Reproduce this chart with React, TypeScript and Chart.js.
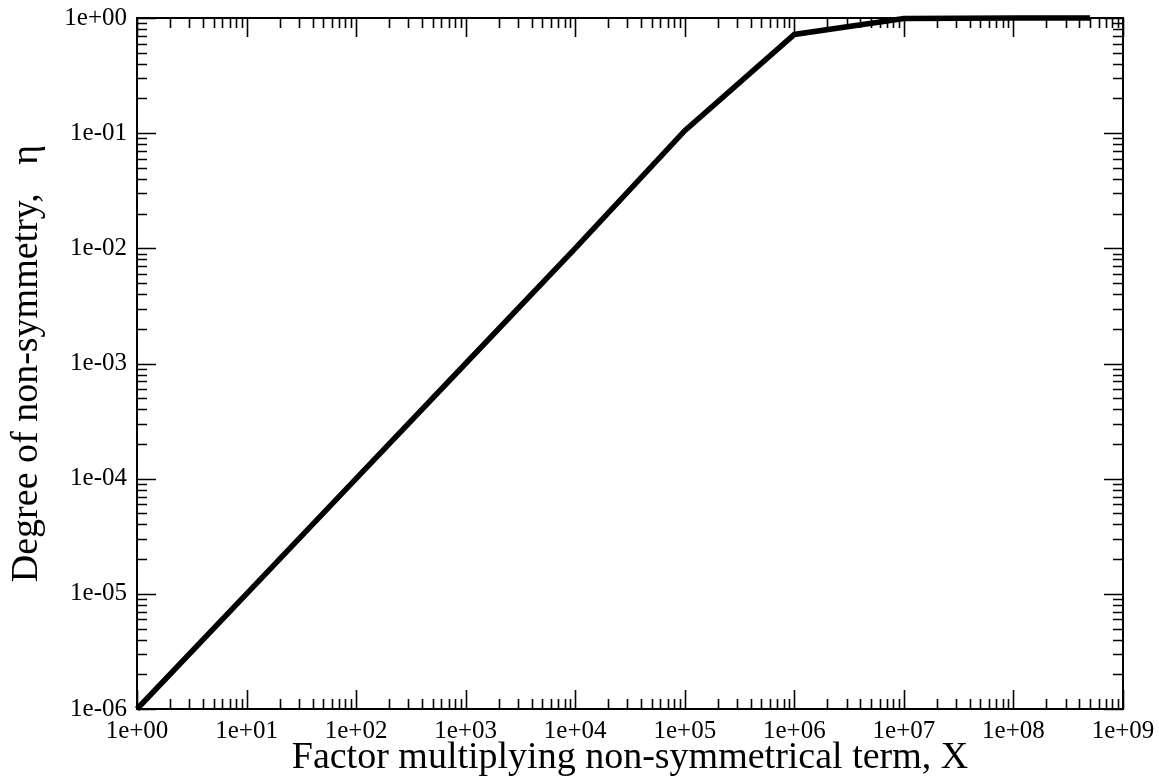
import React, { useEffect, useRef } from "react";
import { Chart, registerables } from "chart.js";

Chart.register(...registerables);

// ---- data ----
const factorX = [1, 10, 100, 1e3, 1e4, 1e5, 1e6, 1e7, 1e8, 5e8];
const etaValues = [1e-6, 1e-5, 1e-4, 1e-3, 1e-2, 0.105, 0.72, 0.99, 1, 1];
const xMajorTicks = [1, 1e1, 1e2, 1e3, 1e4, 1e5, 1e6, 1e7, 1e8, 1e9];
const yMajorTicks = [1e-6, 1e-5, 1e-4, 1e-3, 1e-2, 1e-1, 1];
const minorMultipliers = [2, 3, 4, 5, 6, 7, 8, 9];
const xTitle = "Factor multiplying non-symmetrical term, X";
const yTitle = "Degree of non-symmetry,   η";

const FONT = "'Liberation Serif', 'Times New Roman', serif";

function fmtExp(v: number): string {
  const e = Math.round(Math.log10(v));
  return "1e" + (e < 0 ? "-" : "+") + String(Math.abs(e)).padStart(2, "0");
}

const frameTicksPlugin = {
  id: "frameTicks",
  beforeDatasetsDraw(chart: any) {
    const { ctx, chartArea } = chart;
    const { left, right, top, bottom } = chartArea;
    const xs = chart.scales.x;
    const ys = chart.scales.y;
    const MAJ = 19;
    const MIN = 10;
    ctx.save();
    ctx.strokeStyle = "#000";
    ctx.lineWidth = 1.6;
    ctx.lineCap = "butt";
    const xTicks: [number, number][] = [];
    xMajorTicks.forEach((v, i) => {
      xTicks.push([v, MAJ]);
      if (i < xMajorTicks.length - 1) minorMultipliers.forEach((m) => xTicks.push([v * m, MIN]));
    });
    xTicks.forEach(([v, len]) => {
      const px = Math.round(xs.getPixelForValue(v)) + 0.5;
      ctx.beginPath();
      ctx.moveTo(px, bottom);
      ctx.lineTo(px, bottom - len);
      ctx.moveTo(px, top);
      ctx.lineTo(px, top + len);
      ctx.stroke();
    });
    const yTicks: [number, number][] = [];
    yMajorTicks.forEach((v, i) => {
      yTicks.push([v, MAJ]);
      if (i < yMajorTicks.length - 1) minorMultipliers.forEach((m) => yTicks.push([v * m, MIN]));
    });
    yTicks.forEach(([v, len]) => {
      const py = Math.round(ys.getPixelForValue(v)) + 0.5;
      ctx.beginPath();
      ctx.moveTo(left, py);
      ctx.lineTo(left + len, py);
      ctx.moveTo(right, py);
      ctx.lineTo(right - len, py);
      ctx.stroke();
    });
    ctx.lineWidth = 2;
    ctx.strokeRect(left, top, right - left, bottom - top);
    ctx.restore();
  },
};

export default function App() {
  const ref = useRef<HTMLCanvasElement | null>(null);
  useEffect(() => {
    document.body.style.margin = "0";
    const canvas = ref.current;
    if (!canvas) return;
    const chart = new Chart(canvas, {
      type: "line",
      data: {
        datasets: [
          {
            data: factorX.map((x, i) => ({ x, y: etaValues[i] })),
            borderColor: "#000",
            borderWidth: 5.5,
            pointRadius: 0,
            fill: false,
            tension: 0,
            clip: false,
            borderJoinStyle: "miter",
          } as any,
        ],
      },
      options: {
        responsive: false,
        animation: false,
        devicePixelRatio: 1,
        layout: { padding: { left: 0, right: 36, top: 18, bottom: 0 } },
        plugins: { legend: { display: false }, tooltip: { enabled: false } },
        scales: {
          x: {
            type: "logarithmic",
            position: "bottom",
            min: 1,
            max: 1e9,
            grid: { display: false, drawTicks: false },
            border: { display: false },
            afterBuildTicks: (s: any) => {
              s.ticks = xMajorTicks.map((v) => ({ value: v }));
            },
            afterFit: (s: any) => {
              s.height = 73;
              s.paddingLeft = 0;
              s.paddingRight = 0;
            },
            ticks: {
              color: "#000",
              font: { family: FONT, size: 25 },
              padding: 7,
              maxRotation: 0,
              autoSkip: false,
              callback: (v: any) => fmtExp(Number(v)),
            },
            title: {
              display: true,
              text: xTitle,
              color: "#000",
              font: { family: FONT, size: 38 },
              padding: { top: 0, bottom: 1 },
            },
          },
          y: {
            type: "logarithmic",
            position: "left",
            min: 1e-6,
            max: 1,
            grid: { display: false, drawTicks: false },
            border: { display: false },
            afterBuildTicks: (s: any) => {
              s.ticks = yMajorTicks.map((v) => ({ value: v }));
            },
            afterFit: (s: any) => {
              s.width = 137;
              s.paddingTop = 0;
              s.paddingBottom = 0;
            },
            ticks: {
              color: "#000",
              font: { family: FONT, size: 25 },
              padding: 10,
              autoSkip: false,
              callback: (v: any) => fmtExp(Number(v)),
            },
            title: {
              display: true,
              text: yTitle,
              color: "#000",
              font: { family: FONT, size: 38 },
              padding: { top: 4, bottom: 0 },
            },
          },
        },
      } as any,
      plugins: [frameTicksPlugin],
    });
    return () => chart.destroy();
  }, []);
  return <canvas ref={ref} width={1159} height={782} style={{ display: "block" }} />;
}
